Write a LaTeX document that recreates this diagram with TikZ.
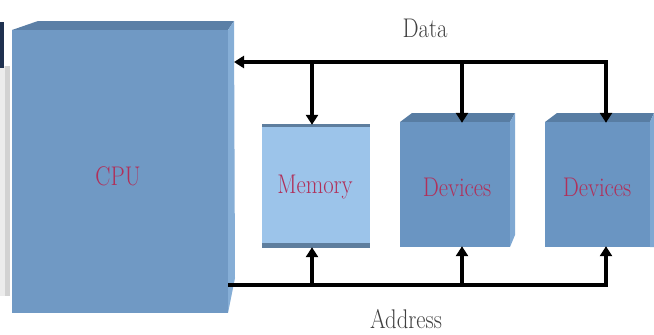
\documentclass[tikz,border=0pt]{standalone}
\usepackage{fontspec}
\usetikzlibrary{arrows.meta}
\definecolor{cpufront}{HTML}{7099C4}
\definecolor{cputop}{HTML}{5B7FA6}
\definecolor{cpuside}{HTML}{86AED6}
\definecolor{devfront}{HTML}{6A95C2}
\definecolor{devtop}{HTML}{587DA3}
\definecolor{devside}{HTML}{7FA8D2}
\definecolor{memfront}{HTML}{9CC4EA}
\definecolor{memband}{HTML}{5E7E9E}
\definecolor{lbl}{HTML}{B0305A}
\definecolor{navy}{HTML}{1F3150}
\newcommand{\sqz}[1]{\scalebox{0.84}[1]{#1}}
\tikzset{
  box/.style={draw=none, inner sep=0pt, text=lbl, font=\rmfamily\fontsize{27}{30}\selectfont},
  arr/.style={line width=3.4pt, -{Triangle[width=12pt,length=10pt]}},
  bus/.style={line width=3.4pt},
  buslabel/.style={font=\rmfamily\fontsize{27}{30}\selectfont, text=black!75, inner sep=0pt}
}
\begin{document}
\begin{tikzpicture}[x=1pt,y=-1pt]
\useasboundingbox (0,0) rectangle (654,335);
% cut-off shape at left edge
\fill[gray!35] (4,66) rectangle (10,296);
\fill[gray!15] (0,66) rectangle (5,296);
\fill[navy] (0,22) rectangle (4,68);
% CPU
\fill[cputop] (12,30) -- (38,21) -- (234,21) -- (228,30) -- cycle;
\fill[cpuside] (228,30) -- (234,21) -- (235,278) -- (228,313) -- cycle;
\node[box, fill=cpufront, minimum width=216pt, minimum height=283pt] (cpu) at (120,171.5) {};
\node[box] (cpul) at (118,176) {\sqz{CPU}};
% Memory
\node[box, fill=memfront, minimum width=108pt, minimum height=124pt] (mem) at (316,186) {};
\fill[memband] (mem.north west) rectangle ([yshift=-3pt]mem.north east);
\fill[memband] ([yshift=5pt]mem.south west) rectangle (mem.south east);
\node[box] (meml) at (315,187) {\sqz{Memory}};
% Devices 1
\fill[devtop] (400,122) -- (412,113) -- (515,113) -- (510,122) -- cycle;
\fill[devside] (510,122) -- (515,113) -- (515,235) -- (510,247) -- cycle;
\node[box, fill=devfront, minimum width=110pt, minimum height=125pt] (dev1) at (455,184.5) {};
\node[box] (dev1l) at (457,187) {\sqz{Devices}};
% Devices 2
\fill[devtop] (545,122) -- (557,113) -- (654,113) -- (650,122) -- cycle;
\fill[devside] (650,122) -- (654,113) -- (654,247) -- (650,247) -- cycle;
\node[box, fill=devfront, minimum width=105pt, minimum height=125pt] (dev2) at (597.5,184.5) {};
\node[box] (dev2l) at (597,187) {\sqz{Devices}};
% Data bus
\coordinate (d1) at (312,62);
\coordinate (d2) at (462,62);
\coordinate (d3) at (606,62);
\coordinate (cpuin) at (234,62);
\draw[arr] ([xshift=1.7pt]d3) -- (cpuin);
\draw[arr] (d1) -- ([yshift=-1pt]d1 |- mem.north);
\draw[arr] (d2) -- ([yshift=-1pt]d2 |- dev1.north);
\draw[arr] (d3) -- ([yshift=-1pt]d3 |- dev2.north);
% Address bus
\coordinate (a0) at (228,285);
\coordinate (a1) at (312,285);
\coordinate (a2) at (462,285);
\coordinate (a3) at (606,285);
\draw[bus] (a0) -- ([xshift=1.7pt]a3);
\draw[arr] ([yshift=1.7pt]a1) -- ([yshift=1pt]a1 |- mem.south);
\draw[arr] ([yshift=1.7pt]a2) -- ([yshift=1pt]a2 |- dev1.south);
\draw[arr] ([yshift=1.7pt]a3) -- ([yshift=1pt]a3 |- dev2.south);
% labels
\node[buslabel] (datal) at (425,28) {\sqz{Data}};
\node[buslabel] (addrl) at (406,319) {\sqz{Address}};
\end{tikzpicture}
\end{document}
